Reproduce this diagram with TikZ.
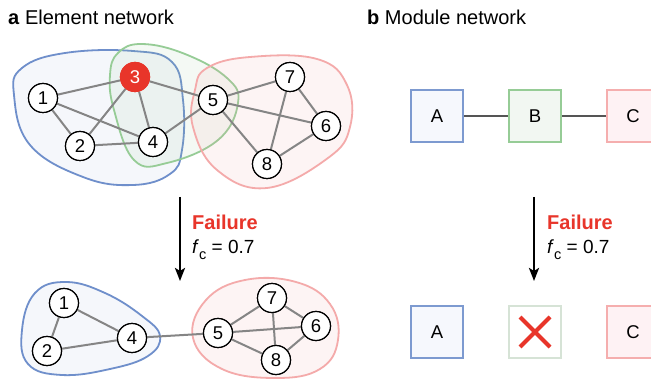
\documentclass[tikz,border=0pt]{standalone}
\usepackage{fontspec}
\setmainfont{Liberation Sans}
\usetikzlibrary{arrows.meta}
\definecolor{bstroke}{HTML}{6F8FCB}
\definecolor{gstroke}{HTML}{96CC96}
\definecolor{rstroke}{HTML}{F4AAAA}
\definecolor{failred}{HTML}{E8352A}
\definecolor{edgegray}{HTML}{858585}
\definecolor{modedge}{HTML}{555555}
\definecolor{afill}{HTML}{F6F8FD}
\definecolor{bfill}{HTML}{F2F7F2}
\definecolor{cfill}{HTML}{FEF2F4}
\definecolor{xstroke}{HTML}{D6E3D6}
\tikzset{
  el/.style={circle,draw=black,line width=1.2pt,fill=white,minimum size=29pt,inner sep=0pt,font=\fontsize{18.5}{18}\selectfont},
  failnode/.style={el,fill=failred,draw=failred,text=white},
  edge/.style={draw=edgegray,line width=2pt},
  blobb/.style={draw=bstroke,line width=1.8pt,fill=bstroke,fill opacity=0.065},
  blobg/.style={draw=gstroke,line width=1.8pt,fill=gstroke,fill opacity=0.1},
  blobr/.style={draw=rstroke,line width=1.8pt,fill=rstroke,fill opacity=0.12},
  modbox/.style={rectangle,minimum size=52pt,inner sep=0pt,line width=2.2pt,font=\fontsize{18.5}{18}\selectfont},
  modedge/.style={draw=modedge,line width=2pt},
  downarrow/.style={line width=2.6pt,-{Stealth[length=13pt,width=10pt,inset=3pt]}},
  title/.style={anchor=base west,font=\fontsize{20}{22}\selectfont,inner sep=0pt},
  failtxt/.style={anchor=base west,font=\fontsize{20}{22}\selectfont\bfseries,text=failred,inner sep=0pt},
  fctxt/.style={anchor=base west,font=\fontsize{19}{22}\selectfont,inner sep=0pt}
}
\newcommand{\fcval}{\textit{f}\raisebox{-0.28em}{\fontsize{14.5}{14}\selectfont c} = 0.7}
\begin{document}
\begin{tikzpicture}[x=1pt,y=-1pt]
\clip (0,0) rectangle (651,379);
\fill[white] (0,0) rectangle (651,379);

% ---------- panel a titles ----------
\node[title] (ta) at (8,25) {\textbf{a} Element network};

% ---------- top blobs ----------
\draw[blobb] plot[smooth cycle,tension=0.7] coordinates {(14,95) (22,68) (65,53) (133,51) (172,62) (183,100) (182,150) (170,174) (133,185) (83,177) (30,145)};
\draw[blobg] plot[smooth cycle,tension=0.7] coordinates {(110,75) (118,53) (142,44) (185,54) (227,78) (238,103) (218,140) (167,163) (134,160) (114,110)};
\draw[blobr] plot[smooth cycle,tension=0.7] coordinates {(195,90) (207,68) (250,57) (317,59) (347,85) (350,127) (328,158) (267,188) (217,170) (193,127)};

% ---------- top nodes ----------
\node[el] (n1) at (43,98) {1};
\node[failnode] (n3) at (135,77) {3};
\node[el] (n2) at (80,146) {2};
\node[el] (n4) at (153,142) {4};
\node[el] (n5) at (213,100) {5};
\node[el] (n7) at (290,77) {7};
\node[el] (n6) at (326,126) {6};
\node[el] (n8) at (267,164) {8};
\foreach \a/\b in {n1/n3,n1/n2,n1/n4,n3/n2,n3/n4,n3/n5,n2/n4,n4/n5,n5/n7,n5/n6,n5/n8,n7/n6,n7/n8,n6/n8}
  \draw[edge] (\a) -- (\b);
% redraw nodes on top of edges
\node[el] at (n1) {1};
\node[failnode] at (n3) {3};
\node[el] at (n2) {2};
\node[el] at (n4) {4};
\node[el] at (n5) {5};
\node[el] at (n7) {7};
\node[el] at (n6) {6};
\node[el] at (n8) {8};

% ---------- arrow a ----------
\coordinate (aa1) at (180,197);
\coordinate (aa2) at (180,281);
\draw[downarrow] (aa1) -- (aa2);
\node[failtxt] (fa) at (192,230) {Failure};
\node[fctxt] (fca) at (192,254) {\fcval};

% ---------- bottom blobs ----------
\draw[blobb] plot[smooth cycle,tension=0.7] coordinates {(22,330) (35,293) (66,282) (105,293) (142,316) (160,336) (148,356) (110,369) (62,375) (28,364)};
\draw[blobr] plot[smooth cycle,tension=0.7] coordinates {(193,338) (206,300) (245,280) (296,282) (330,304) (338,340) (320,369) (276,378) (222,369)};

% ---------- bottom nodes ----------
\node[el] (m1) at (64,303) {1};
\node[el] (m2) at (47,351) {2};
\node[el] (m4) at (132,338) {4};
\node[el] (m5) at (218,333) {5};
\node[el] (m7) at (272,298) {7};
\node[el] (m6) at (316,326) {6};
\node[el] (m8) at (276,360) {8};
\foreach \a/\b in {m1/m2,m1/m4,m2/m4,m4/m5,m5/m7,m5/m6,m5/m8,m7/m6,m7/m8,m6/m8}
  \draw[edge] (\a) -- (\b);
\node[el] at (m1) {1};
\node[el] at (m2) {2};
\node[el] at (m4) {4};
\node[el] at (m5) {5};
\node[el] at (m7) {7};
\node[el] at (m6) {6};
\node[el] at (m8) {8};

% ---------- panel b ----------
\node[title] (tb) at (367,25) {\textbf{b} Module network};
\node[modbox,draw=bstroke!90,fill=afill] (A) at (437,116) {A};
\node[modbox,draw=gstroke,fill=bfill] (B) at (535,116) {B};
\node[modbox,draw=rstroke!95,fill=cfill] (C) at (633,116) {C};
\draw[modedge] (A) -- (B);
\draw[modedge] (B) -- (C);

\coordinate (ba1) at (534,197);
\coordinate (ba2) at (534,281);
\draw[downarrow] (ba1) -- (ba2);
\node[failtxt] (fb) at (547,230) {Failure};
\node[fctxt] (fcb) at (547,254) {\fcval};

\node[modbox,draw=bstroke!90,fill=afill] (A2) at (437,332) {A};
\node[modbox,draw=xstroke,fill=white] (B2) at (535,332) {};
\node[modbox,draw=rstroke!95,fill=cfill] (C2) at (633,332) {C};
\draw[failred,line width=4.2pt] ([shift={(-15,-15)}]B2.center) -- ([shift={(15,15)}]B2.center);
\draw[failred,line width=4.2pt] ([shift={(15,-15)}]B2.center) -- ([shift={(-15,15)}]B2.center);
\end{tikzpicture}
\end{document}
